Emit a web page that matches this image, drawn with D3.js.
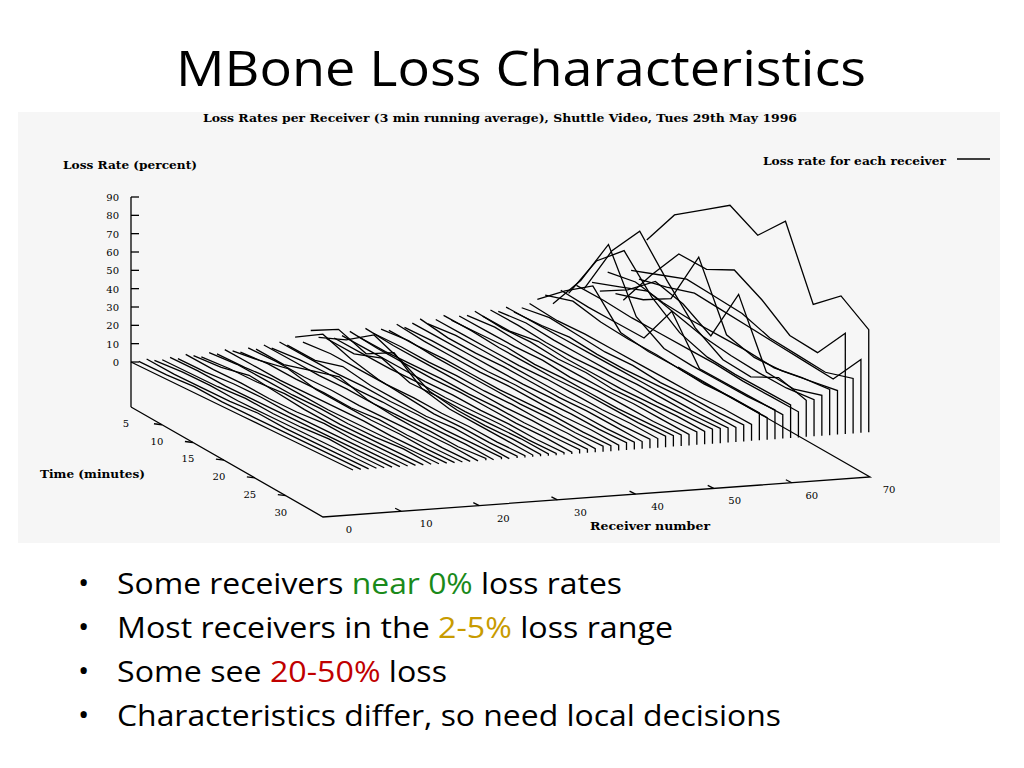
<!DOCTYPE html>
<html><head><meta charset="utf-8">
<script src="https://cdn.jsdelivr.net/npm/d3@7"></script>
<style>
body{margin:0;background:#fff;}
svg text{font-family:"DejaVu Serif",serif;}
</style></head>
<body><svg id="c" width="1024" height="768"></svg>
<script>
// y-axis ticks (percent), time ticks (minutes), receiver ticks
var lossTicks = [0, 10, 20, 30, 40, 50, 60, 70, 80, 90];
var timeTicks = [5, 10, 15, 20, 25, 30];
var receiverTicks = [0, 10, 20, 30, 40, 50, 60, 70];
// sample points along each receiver's time run (fraction of run)
var samples = [0, 0.125, 0.25, 0.375, 0.5, 0.625, 0.75, 0.875, 1];
// loss rate per receiver (%)
var lossRates = [
 [0,0,0,0,0,0,0,0,0],[0,0,1,0,0,0,0,0,0],[1,0,0,0,1,0,0,0,0],[0,1,1,0,0,0,0,0,0],
 [0,0,0,1,0,0,1,0,0],[1,1,0,0,0,0,0,0,0],[0,0,1,1,0,0,0,0,0],[2,1,1,0,0,1,0,0,0],
 [1,2,5,3,1,0,0,0,0],[0,1,1,2,1,0,0,0,0],[2,3,2,1,1,0,0,1,0],[1,1,2,1,0,0,0,0,0],
 [3,2,1,1,1,1,0,0,0],[2,4,7,3,2,1,1,0,0],[1,2,1,1,0,1,0,0,0],[3,3,2,2,1,1,1,0,0],
 [2,1,5,9,4,2,1,1,0],[4,3,2,2,1,1,1,0,1],[2,3,3,2,2,1,1,1,0],[5,4,3,3,2,2,1,1,1],
 [3,2,6,3,2,1,2,1,0],[7,16,10,6,4,2,2,1,1],[4,5,4,3,3,2,2,1,1],[10,18,12,20,8,4,3,2,1],
 [6,12,22,15,6,3,2,2,1],[5,4,9,3,3,2,2,2,1],[5,4,3,3,2,2,2,1,1],[6,5,4,3,3,2,2,1,1],
 [8,6,5,4,4,3,2,2,1],[5,4,4,4,3,3,2,2,2],[9,7,6,5,4,3,3,2,2],[6,6,5,5,4,4,3,3,2],
 [8,9,7,6,5,4,4,3,3],[7,6,6,5,4,4,4,3,3],[10,8,7,6,6,5,4,4,3],[8,8,7,6,6,5,5,4,4],
 [10,9,8,7,6,6,5,4,4],[12,9,8,8,7,6,6,5,4],[9,10,9,8,7,6,6,5,5],[11,10,9,8,8,7,6,6,5],
 [13,12,10,9,8,8,7,6,6],[10,10,10,8,8,7,6,6,6],[12,11,10,10,8,8,7,6,6],[12,13,11,10,9,8,8,7,6],
 [14,12,12,10,10,8,8,7,7],[11,10,12,10,9,8,8,8,7],[14,13,11,10,10,9,8,8,8],[13,14,12,11,10,10,9,8,8],
 [15,14,13,12,11,10,9,8,8],[12,12,13,11,10,10,10,9,8],[14,16,14,12,12,10,10,9,9],[16,14,14,13,12,11,10,10,9],
 [18,30,40,22,19,18,16,16,15],[20,24,20,18,17,15,14,13,12],[15,35,62,30,20,18,17,16,16],[22,20,19,18,40,16,15,14,13],
 [20,45,58,40,28,22,20,19,18],[24,23,21,20,19,18,16,15,14],[22,50,68,48,30,20,18,25,20],[25,30,35,30,25,22,20,19,20],
 [20,28,40,35,25,55,20,18,22],[30,32,28,26,25,24,22,24,25],[18,22,30,60,25,20,20,22,24],[14,35,54,53,60,51,39,37,55],
 [30,35,40,38,36,30,28,26,30],[25,28,32,30,28,26,24,22,40],[46,67,77,87,78,93,55,67,56]
];
var bullets = [
 [["Some receivers ","#000"],["near 0%","#1a8a1a"],[" loss rates","#000"]],
 [["Most receivers in the ","#000"],["2-5%","#c89b00"],[" loss range","#000"]],
 [["Some see ","#000"],["20-50%","#c00000"],[" loss","#000"]],
 [["Characteristics differ, so need local decisions","#000"]]
];
var bulletWidths = [505, 556, 330, 664];

var svg = d3.select("#c");
svg.append("text").attr("x", 521).attr("y", 86).attr("text-anchor", "middle")
  .style("font-family", "'Open Sans',sans-serif").style("font-size", "50px")
  .attr("textLength", 690).attr("lengthAdjust", "spacingAndGlyphs")
  .text("MBone Loss Characteristics");

svg.append("rect").attr("x", 18).attr("y", 112).attr("width", 982).attr("height", 431).attr("fill", "#f6f6f6");

// projection pieces
var rx = d3.scaleLinear().domain([0, 70]).range([0, 547]);
var ry = d3.scaleLinear().domain([0, 70]).range([0, -40]);
var tx = d3.scaleLinear().domain([5, 36]).range([131, 323]);
var ty = d3.scaleLinear().domain([5, 36]).range([407, 517]);
var fx = d3.scaleLinear().domain([0, 1]).range([0, 222]);
var fy = d3.scaleLinear().domain([0, 1]).range([0, 108]);
var vy = d3.scaleLinear().domain([0, 90]).range([362, 197]);

var g = svg.append("g").attr("fill", "none").attr("stroke", "#000").attr("stroke-width", 1.3);

// floor
var corners = [[0, 5], [0, 36], [70, 36], [70, 5]];
g.append("path").attr("d", d3.line()(corners.map(function(c) {
  return [tx(c[1]) + rx(c[0]), ty(c[1]) + ry(c[0])];
})));
// vertical axis
g.append("line").attr("x1", 131).attr("x2", 131).attr("y1", 197).attr("y2", 407);
lossTicks.forEach(function(v) {
  g.append("line").attr("x1", 131).attr("x2", 139).attr("y1", vy(v)).attr("y2", vy(v));
  svg.append("text").attr("x", 119).attr("y", vy(v) + 4).attr("text-anchor", "end")
    .style("font-size", "10px").text(v);
});
timeTicks.forEach(function(t) {
  var x = tx(t), y = ty(t);
  if (t > 5) g.append("line").attr("x1", x - 8).attr("y1", y - 1).attr("x2", x).attr("y2", y);
  svg.append("text").attr("x", x - 5).attr("y", y + 20).attr("text-anchor", "middle")
    .style("font-size", "10px").text(t);
});
receiverTicks.forEach(function(r) {
  var x = tx(36) + rx(r), y = ty(36) + ry(r);
  if (r > 0 && r < 70) g.append("line").attr("x1", x - 6).attr("y1", y - 3).attr("x2", x).attr("y2", y);
  svg.append("text").attr("x", x + 26 - r * 0.1).attr("y", y + 16).attr("text-anchor", "middle")
    .style("font-size", "10px").text(r);
});

// receiver curves, back to front
var line = d3.line();
lossRates.forEach(function(vals, r) {
  var pts = vals.map(function(v, i) {
    var f = samples[i];
    return [131 + rx(r) + fx(f), vy(v) + ry(r) + fy(f)];
  });
  var last = pts[pts.length - 1];
  pts.push([last[0], vy(0) + ry(r) + fy(1)]);
  g.append("path").attr("d", line(pts));
});

// labels
function lab(x, y, s, w) {
  svg.append("text").attr("x", x).attr("y", y).style("font-size", "11px")
    .style("font-weight", "bold").attr("textLength", w).attr("lengthAdjust", "spacingAndGlyphs").text(s);
}
lab(203, 122, "Loss Rates per Receiver (3 min running average), Shuttle Video, Tues 29th May 1996", 594);
lab(63, 169, "Loss Rate (percent)", 134);
lab(40, 478, "Time (minutes)", 105);
lab(590, 530, "Receiver number", 120);
lab(763, 165, "Loss rate for each receiver", 183);
g.append("line").attr("x1", 957).attr("x2", 990).attr("y1", 159).attr("y2", 159);

// bullets
bullets.forEach(function(parts, i) {
  var y = 594 + i * 44;
  svg.append("text").attr("x", 78).attr("y", y - 1).style("font-family", "'Open Sans',sans-serif")
    .style("font-size", "30px").text("•");
  var t = svg.append("text").attr("x", 117).attr("y", y)
    .style("font-family", "'Open Sans',sans-serif").style("font-size", "30px")
    .attr("textLength", bulletWidths[i]).attr("lengthAdjust", "spacingAndGlyphs");
  parts.forEach(function(p) { t.append("tspan").attr("fill", p[1]).text(p[0]); });
});
</script></body></html>
